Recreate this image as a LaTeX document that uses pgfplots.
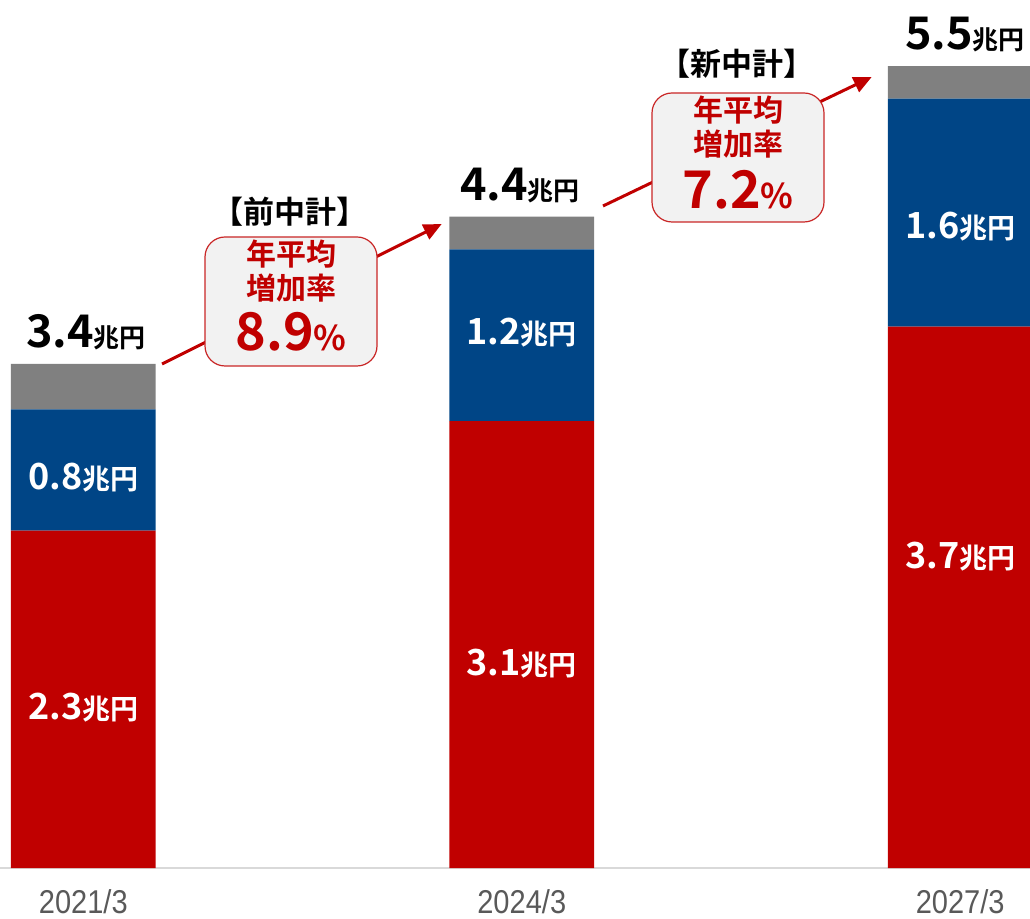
\documentclass[border=0pt]{standalone}
\usepackage{fontspec}
\setmainfont{Noto Sans CJK JP}[BoldFont={Noto Sans CJK JP Bold}]
\newfontfamily\tickfont{Liberation Sans}[FakeStretch=0.88]
\usepackage{pgfplots}
\pgfplotsset{compat=1.18}
\usetikzlibrary{arrows.meta}
\definecolor{cred}{HTML}{C00000}
\definecolor{cblue}{HTML}{004586}
\definecolor{cgray}{HTML}{808080}
\definecolor{cbox}{HTML}{F2F2F2}
\definecolor{ctick}{HTML}{595959}
\newcommand{\toplab}[1]{{\bfseries\fontsize{22.5bp}{26bp}\selectfont #1\fontsize{13bp}{15bp}\selectfont 兆円}}
\newcommand{\inlab}[1]{{\color{white}\bfseries\fontsize{18bp}{22bp}\selectfont #1\fontsize{14bp}{16bp}\selectfont 兆円}}
\begin{document}
\begin{tikzpicture}
\begin{axis}[
  scale only axis, width=515bp, height=434bp,
  xmin=-0.19, xmax=2.1592, ymin=0, ymax=5.857,
  ybar stacked, bar width=0.33,
  hide y axis, axis x line*=bottom,
  x axis line style={draw=black!15, line width=1bp},
  xtick={0,1,2}, xticklabels={2021/3,2024/3,2027/3},
  major tick length=0pt,
  xticklabel style={font=\tickfont\fontsize{16.5bp}{19bp}\selectfont, text=ctick, anchor=north, inner sep=0pt, yshift=-10.5bp},
  clip=false,
]
\addplot[fill=cred, draw=none] coordinates {(0,2.276) (1,3.016) (2,3.653)};
\addplot[fill=cblue, draw=none] coordinates {(0,0.819) (1,1.159) (2,1.538)};
\addplot[fill=cgray, draw=none] coordinates {(0,0.306) (1,0.220) (2,0.220)};
\coordinate (t1) at (axis cs:0.006,3.509);
\coordinate (t2) at (axis cs:0.996,4.503);
\coordinate (t3) at (axis cs:2.011,5.520);
\coordinate (r1) at (axis cs:0,1.005);
\coordinate (b1) at (axis cs:0,2.557);
\coordinate (r2) at (axis cs:1,1.296);
\coordinate (b2) at (axis cs:1,3.534);
\coordinate (r3) at (axis cs:2,2.018);
\coordinate (b3) at (axis cs:2,4.249);
\end{axis}
\node[anchor=base, inner sep=0pt] at (t1) {\toplab{3.4}};
\node[anchor=base, inner sep=0pt] at (t2) {\toplab{4.4}};
\node[anchor=base, inner sep=0pt] at (t3) {\toplab{5.5}};
\node[anchor=base, inner sep=0pt] at (r1) {\inlab{2.3}};
\node[anchor=base, inner sep=0pt] at (b1) {\inlab{0.8}};
\node[anchor=base, inner sep=0pt] at (r2) {\inlab{3.1}};
\node[anchor=base, inner sep=0pt] at (b2) {\inlab{1.2}};
\node[anchor=base, inner sep=0pt] at (r3) {\inlab{3.7}};
\node[anchor=base, inner sep=0pt] at (b3) {\inlab{1.6}};
% callout 1
\draw[cred, line width=1.5bp, -{Triangle[length=9bp,width=8bp]}] (81bp,252bp) -- (220.85bp,322bp);
\draw[draw=cred!85, fill=cbox, rounded corners=10bp, line width=0.6bp] (102.5bp,251bp) rectangle (188.5bp,315.5bp);
\node[text=cred, font=\bfseries\fontsize{15bp}{18bp}\selectfont, inner sep=0pt] at (145.5bp,307bp) {年平均};
\node[text=cred, font=\bfseries\fontsize{15bp}{18bp}\selectfont, inner sep=0pt] at (145.5bp,290bp) {増加率};
\node[text=cred, anchor=base, inner sep=0pt] at (145.5bp,258.5bp) {\bfseries\fontsize{26bp}{30bp}\selectfont 8.9\fontsize{17bp}{20bp}\selectfont\%};
\node[font=\bfseries\fontsize{15.5bp}{18bp}\selectfont, inner sep=0pt] at (145bp,328bp) {【前中計】};
% callout 2
\draw[cred, line width=1.5bp, -{Triangle[length=9bp,width=8bp]}] (301.5bp,331bp) -- (435.85bp,395.5bp);
\draw[draw=cred!85, fill=cbox, rounded corners=10bp, line width=0.6bp] (326bp,323bp) rectangle (412bp,387.5bp);
\node[text=cred, font=\bfseries\fontsize{15bp}{18bp}\selectfont, inner sep=0pt] at (369bp,379bp) {年平均};
\node[text=cred, font=\bfseries\fontsize{15bp}{18bp}\selectfont, inner sep=0pt] at (369bp,362bp) {増加率};
\node[text=cred, anchor=base, inner sep=0pt] at (369bp,329.5bp) {\bfseries\fontsize{26bp}{30bp}\selectfont 7.2\fontsize{17bp}{20bp}\selectfont\%};
\node[font=\bfseries\fontsize{15.5bp}{18bp}\selectfont, inner sep=0pt] at (368.5bp,402bp) {【新中計】};
\pgfresetboundingbox
\path[use as bounding box] (0,-25.5bp) rectangle (515bp,434bp);
\end{tikzpicture}
\end{document}
